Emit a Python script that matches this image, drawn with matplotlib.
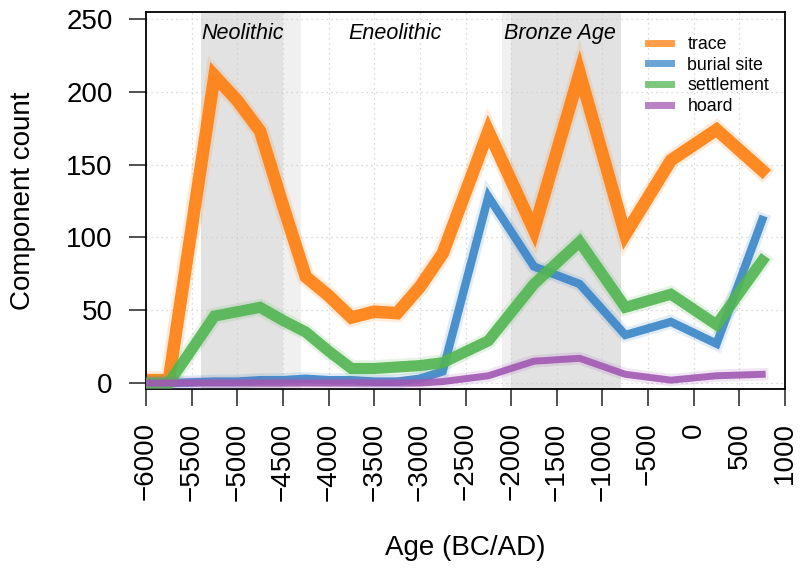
#!/usr/bin/env python3
"""Component counts through time by site type, with period shading."""

import matplotlib

matplotlib.use("Agg")

import matplotlib.pyplot as plt

plt.rcParams["font.family"] = ["Liberation Sans", "DejaVu Sans"]

# ---- data ----
years = [-6000, -5750, -5250, -5000, -4750, -4500, -4250, -4000, -3750, -3500,
         -3250, -3000, -2750, -2250, -1750, -1250, -750, -250, 250, 750]
trace = [2, 2, 211, 194, 173, 122, 73, 60, 45, 49,
         48, 66, 89, 173, 105, 213, 102, 153, 174, 146]
burial_site = [0, 0, 1, 1, 2, 2, 3, 2, 2, 1,
               1, 3, 8, 128, 80, 68, 33, 42, 27, 112]
settlement = [0, 0, 46, 49, 52, 43, 35, 22, 10, 10,
              11, 12, 14, 29, 68, 97, 52, 61, 40, 84]
hoard = [0, 0, 0, 0, 0, 0, 0, 0, 0, 0,
         0, 0, 1, 5, 15, 17, 6, 2, 5, 6]

series_names = ["trace", "burial site", "settlement", "hoard"]
series_values = [trace, burial_site, settlement, hoard]

# periods: (label, core start, core end, fuzzy start, fuzzy end)
periods = [
    ("Neolithic", -5400, -4500, -5400, -4300),
    ("Eneolithic", None, None, None, None),
    ("Bronze Age", -2000, -800, -2100, -800),
]
period_label_x = [-4940, -3270, -1470]

xticks = list(range(-6000, 1001, 500))
yticks = list(range(0, 251, 50))

colors = ["#ff7f0e", "#3a86c8", "#52b552", "#a259b3"]
widths = [9.0, 6.0, 8.0, 5.0]

fig = plt.figure(figsize=(8.0, 5.71), dpi=100)
ax = fig.add_axes([0.1825, 0.3187, 0.7988, 0.6603])

# period shading
for (name, c0, c1, f0, f1) in periods:
    if c0 is None:
        continue
    ax.axvspan(f0, f1, color="#f0f0f0", lw=0, zorder=0)
    ax.axvspan(c0, c1, color="#e2e2e2", lw=0, zorder=0.1)

# dotted grid
for x in xticks:
    ax.axvline(x, color="#cfcfcf", lw=0.9, ls=(0, (1, 3)), zorder=0.5)
for y in yticks:
    ax.axhline(y, color="#cfcfcf", lw=0.9, ls=(0, (1, 3)), zorder=0.5)

for i, (name, vals) in enumerate(zip(series_names, series_values)):
    ax.plot(years, vals, color=colors[i], lw=widths[i] + 4.0, alpha=0.15,
            solid_joinstyle="miter", zorder=2 + i)
    ax.plot(years, vals, color=colors[i], lw=widths[i], alpha=0.9,
            solid_joinstyle="miter", label=name, zorder=2 + i)

for (name, *_), lx in zip(periods, period_label_x):
    ax.text(lx, 240, name, style="italic", fontsize=15.5,
            ha="center", va="center", zorder=10)

ax.set_xlim(-6000, 1000)
ax.set_ylim(-4.1, 254.8)
ax.set_xticks(xticks)
ax.set_xticklabels([str(t).replace("-", "\u2212") for t in xticks], rotation=90)
ax.set_yticks(yticks)
ax.tick_params(axis="both", labelsize=20, length=12, width=1.1, pad=12,
               color="#222222")
for sp in ax.spines.values():
    sp.set_linewidth(1.3)

ax.set_xlabel("Age (BC/AD)", fontsize=20, labelpad=25)
ax.set_ylabel("Component count", fontsize=20, labelpad=22)

leg = ax.legend(loc="upper left", bbox_to_anchor=(0.775, 0.955), frameon=False,
                fontsize=12.8, handlelength=1.3, handletextpad=0.9,
                labelspacing=0.2, borderaxespad=0)
for h in leg.get_lines():
    h.set_linewidth(5)
    h.set_alpha(0.75)

fig.savefig("out.png", dpi=100)
